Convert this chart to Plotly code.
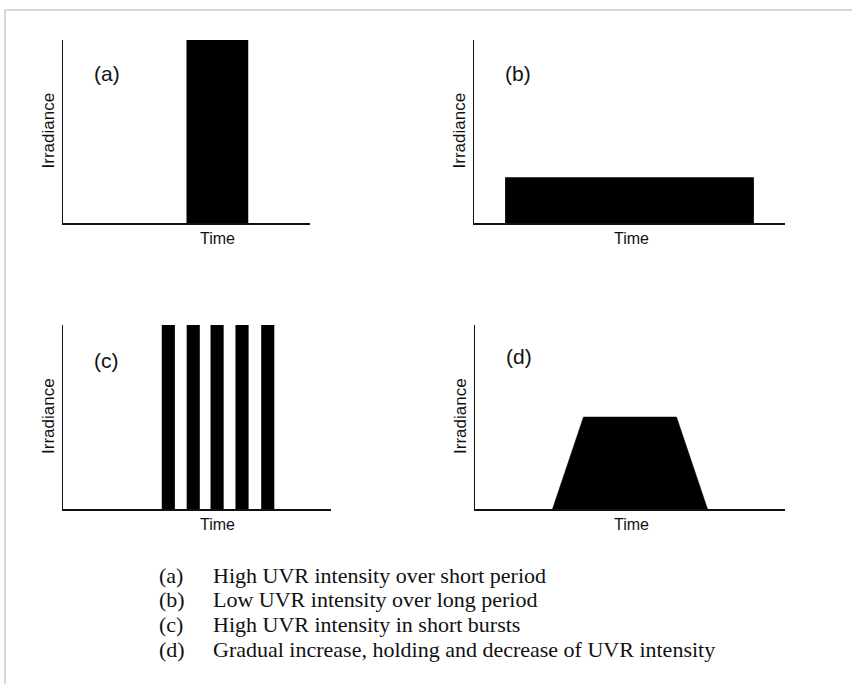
import plotly.graph_objects as go

W, H = 852, 684

# ---- data (time in arbitrary units 0-100, irradiance 0-1) ----
a_starts = [50.0]
a_ends = [75.0]
a_levels = [1.0]

b_starts = [10.0]
b_ends = [90.0]
b_levels = [0.25]

c_centers = [39.3, 48.6, 57.5, 66.8, 76.4]
c_width = 4.9
c_levels = [1.0, 1.0, 1.0, 1.0, 1.0]

d_time = [25.0, 35.0, 65.0, 75.0]
d_irr = [0.0, 0.5, 0.5, 0.0]

panel_tags = ["(a)", "(b)", "(c)", "(d)"]
x_label = "Time"
y_label = "Irradiance"

caption_keys = ["(a)", "(b)", "(c)", "(d)"]
caption_texts = [
    "High UVR intensity over short period",
    "Low UVR intensity over long period",
    "High UVR intensity in short bursts",
    "Gradual increase, holding and decrease of UVR intensity",
]

# ---- layout helpers (pixel -> paper) ----
def px(x):
    return x / W

def py(y):
    return 1 - y / H

# panel boxes: left, right, top, bottom in pixels
panels = [
    (63, 310, 40, 223),
    (474, 785, 40, 223),
    (63, 331, 325, 509),
    (475, 785, 325, 509),
]
time_label_x = [218, 631, 218, 631]

fig = go.Figure()
BLACK = "#000000"

# (a)
fig.add_trace(go.Bar(
    x=[(s + e) / 2 for s, e in zip(a_starts, a_ends)],
    y=a_levels,
    width=[e - s for s, e in zip(a_starts, a_ends)],
    base=0, marker=dict(color=BLACK, line=dict(width=0)),
    xaxis="x", yaxis="y", hoverinfo="skip"))
# (b)
fig.add_trace(go.Bar(
    x=[(s + e) / 2 for s, e in zip(b_starts, b_ends)],
    y=b_levels,
    width=[e - s for s, e in zip(b_starts, b_ends)],
    base=0, marker=dict(color=BLACK, line=dict(width=0)),
    xaxis="x2", yaxis="y2", hoverinfo="skip"))
# (c)
fig.add_trace(go.Bar(
    x=c_centers, y=c_levels, width=[c_width] * len(c_centers),
    base=0, marker=dict(color=BLACK, line=dict(width=0)),
    xaxis="x3", yaxis="y3", hoverinfo="skip"))
# (d)
fig.add_trace(go.Scatter(
    x=d_time, y=d_irr, mode="lines", fill="toself",
    fillcolor=BLACK, line=dict(color=BLACK, width=0.5),
    xaxis="x4", yaxis="y4", hoverinfo="skip"))

axis_common = dict(showgrid=False, zeroline=False, showticklabels=False,
                   ticks="", showline=True, linecolor="#111111",
                   linewidth=1.5, fixedrange=True)

layout = dict(
    width=W, height=H,
    margin=dict(l=0, r=0, t=0, b=0),
    paper_bgcolor="white", plot_bgcolor="white",
    showlegend=False, barmode="overlay",
)

annotations = []
for i, (l, r, t, b) in enumerate(panels):
    sfx = "" if i == 0 else str(i + 1)
    layout["xaxis" + sfx] = dict(axis_common, domain=[px(l), px(r)],
                                 range=[0, 100], anchor="y" + sfx)
    layout["yaxis" + sfx] = dict(axis_common, domain=[py(b), py(t)],
                                 range=[0, 1], anchor="x" + sfx)
    # axis titles
    annotations.append(dict(text=x_label, xref="paper", yref="paper",
                            x=px(time_label_x[i]),
                            y=py(b + 15), showarrow=False,
                            xanchor="center", yanchor="middle",
                            font=dict(family="Liberation Sans, Arial", size=16, color="#111")))
    annotations.append(dict(text=y_label, xref="paper", yref="paper",
                            x=px(l - 15), y=py((t + b) / 2 - 1), showarrow=False,
                            textangle=-90, xanchor="center", yanchor="middle",
                            font=dict(family="Liberation Sans, Arial", size=17, color="#111")))

tag_pos = [(107, 74), (518, 74), (106, 360), (519, 357)]
for tag, (x, y) in zip(panel_tags, tag_pos):
    annotations.append(dict(text=tag, xref="paper", yref="paper",
                            x=px(x), y=py(y), showarrow=False,
                            xanchor="center", yanchor="middle",
                            font=dict(family="Liberation Sans, Arial", size=21, color="#111")))

cap_y = [575, 599, 624, 649]
for key, txt, y in zip(caption_keys, caption_texts, cap_y):
    annotations.append(dict(text=key, xref="paper", yref="paper",
                            x=px(157), y=py(y), showarrow=False,
                            xanchor="left", yanchor="middle",
                            font=dict(family="Liberation Serif, Times New Roman", size=22, color="#111")))
    annotations.append(dict(text=txt, xref="paper", yref="paper",
                            x=px(211), y=py(y), showarrow=False,
                            xanchor="left", yanchor="middle",
                            font=dict(family="Liberation Serif, Times New Roman", size=22, color="#111")))

layout["annotations"] = annotations
layout["shapes"] = [dict(type="rect", xref="paper", yref="paper",
                         x0=px(5), x1=1.02, y0=-0.02, y1=py(10),
                         line=dict(color="#cccccc", width=1.5),
                         fillcolor="rgba(0,0,0,0)", layer="below")]

fig.update_layout(**layout)
fig.write_html("out.html",
               config={"displayModeBar": False, "staticPlot": True},
               post_script="document.body.style.margin='0';document.body.style.overflow='hidden';")
